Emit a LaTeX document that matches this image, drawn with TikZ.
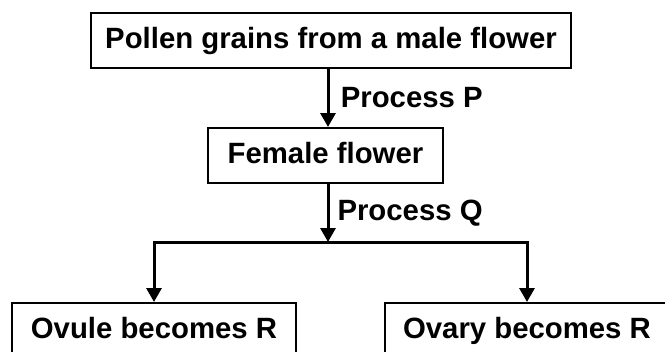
\documentclass[tikz,border=0pt]{standalone}
\usepackage{fontspec}
\setmainfont{Liberation Sans}
\usetikzlibrary{arrows.meta, positioning}

\begin{document}
\begin{tikzpicture}[x=0.75pt, y=-0.75pt,
    head/.tip={Triangle[width=11.25pt, length=10.5pt]},
    box/.style={draw, line width=1.5pt, minimum height=41.25pt, inner sep=0pt,
                text height=16pt, text depth=4.5pt,
                font=\fontsize{22}{26}\selectfont\bfseries},
    flow/.style={line width=2.25pt, -head},
    lbl/.style={font=\fontsize{22}{26}\selectfont\bfseries, inner sep=0pt}]

    \path [use as bounding box, clip] (0,0) rectangle (665,351); % same size as the reference

    % boxes, the two lower ones run off the bottom edge
    \node [box, minimum width=360pt]    (pollen) at (331,40.5)  {Pollen grains from a male flower};
    \node [box, minimum width=176.25pt] (female) at (325.5,155.5) {Female flower};
    \node [box, minimum width=213pt, anchor=north] (ovule) at (154,302) {Ovule becomes R};
    \node [box, minimum width=213pt, anchor=north] (ovary) at (527,302) {Ovary becomes R};

    \coordinate (spine) at (328,0);
    \coordinate (fork)  at (328,242);

    \draw [flow] (pollen.south -| spine) -- node [lbl, right=8.5pt] {Process P} (female.north -| spine);
    \draw [flow] (female.south -| spine) -- node [lbl, right=6pt] {Process Q} (fork);
    \draw [line width=2.25pt, head-head] (ovule.north) |- (fork) -| (ovary.north);

\end{tikzpicture}
\end{document}
